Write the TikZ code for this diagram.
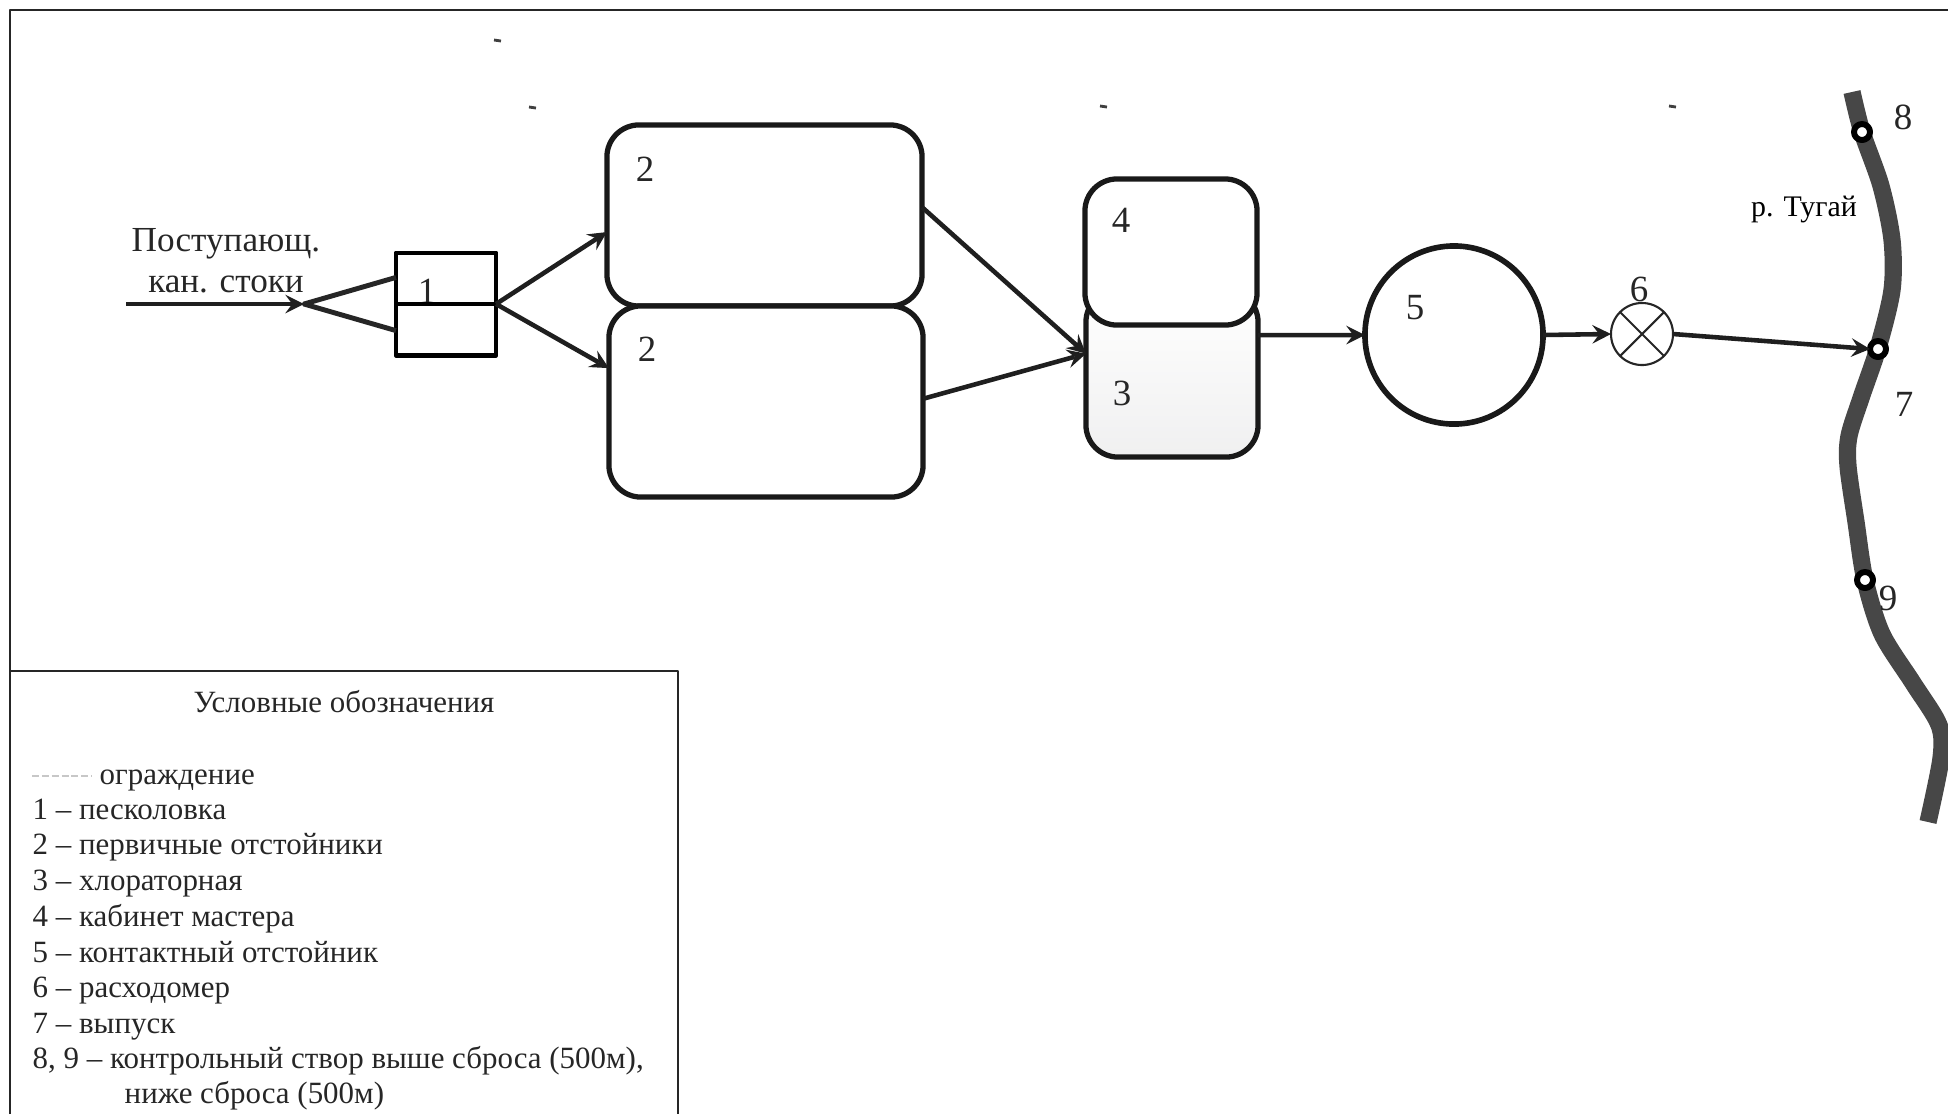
\documentclass[tikz,border=0pt]{standalone}
\usepackage{fontspec}
\setmainfont{Liberation Serif}
\tikzset{
tank/.style={draw=black!90,line width=1.5pt,rounded corners=0.32cm,fill=white,outer sep=0pt,inner sep=0pt},
gate/.style={draw,circle,line width=1.7pt,fill=white,inner sep=0pt,minimum size=0.16cm,outer sep=0pt},
flow/.style={line width=1.3pt,->,black!88},
num/.style={font=\fontsize{10.5}{12}\selectfont,text=black!85},
entry/.style={anchor=base west,inner sep=0pt,font=\fontsize{8.8}{10}\selectfont,text=black!85},
}
\begin{document}
\begin{tikzpicture}[x=0.01cm,y=-0.01cm,line join=round,>=stealth]
\useasboundingbox (0,0) rectangle (1948,1114);
% frame and legend box
\draw[line width=0.7pt,black!85] (10,1114) -- (10,10) -- (1948,10);
\draw[line width=0.6pt,black!85] (10,671) -- (678,671) -- (678,1114);
% specks of the fence
\foreach \x/\y in {494/40,529/107,1100/106,1669/106}
\draw[line width=0.8pt,black!75] (\x,\y) -- ++(7,1);
% river
\draw[line width=4.9pt,black!72] plot[smooth] coordinates {(1852,92) (1862,132) (1881,186) (1892,240) (1892,290) (1878,348) (1861,398) (1849,436) (1848,466) (1856,522) (1865,580) (1882,634) (1913,683) (1939,725) (1941,758) (1928,822)};
\node[gate] (upper) at (1862,132) {};
\node[gate] (outlet) at (1878,349) {};
\node[gate] (lower) at (1865,580) {};
\node[num] (l8) at (1903,117) {8};
\node[num] (l7) at (1904,404) {7};
\node[num] (l9) at (1888,598) {9};
\node[font=\fontsize{8.5}{10}\selectfont] (rname) at (1804,209) {р. Тугай};
% sand trap
\node[draw,line width=1.4pt,minimum width=1cm,minimum height=1.02cm,outer sep=0pt] (sand) at (446,304) {};
\node[num] (l1) at (427,291) {1};
\draw[line width=1.2pt] (sand.west) -- (sand.east);
% tanks
\node[tank,minimum width=3.15cm,minimum height=1.81cm] (tankA) at (764.5,215.5) {};
\node[tank,minimum width=3.14cm,minimum height=1.91cm] (tankB) at (766,401.5) {};
\node[tank,minimum width=1.72cm,minimum height=1.67cm,top color=white,bottom color=blue!3!black!6] (chlor) at (1172,373.5) {};
\node[tank,minimum width=1.72cm,minimum height=1.46cm] (office) at (1171,252) {};
\node[draw=black!90,circle,line width=1.6pt,minimum size=1.78cm,inner sep=0pt,outer sep=0pt] (contact) at (1454,335) {};
\node[draw=black!85,circle,line width=0.6pt,minimum size=0.62cm,inner sep=0pt,outer sep=0pt] (meter) at (1642,334) {};
\draw[line width=0.6pt,black!85] (meter.45) -- (meter.225) (meter.135) -- (meter.315);
\node[num] (l2a) at (645,169) {2};
\node[num] (l2b) at (647,349) {2};
\node[num] (l4) at (1121,220) {4};
\node[num] (l3) at (1122,393) {3};
\node[num] (l5) at (1415,308) {5};
\node[num] (l6) at (1639,289) {6};
% inlet
\coordinate (inlet) at (126,304);
\coordinate (fork) at (304,304);
\node[font=\fontsize{10}{12}\selectfont,text=black!85] (inA) at (226,244) {Поступающ.};
\node[font=\fontsize{10}{12}\selectfont,text=black!85] (inB) at (226,284) {кан. стоки};
\draw[flow] (inlet) -- (fork);
\draw[line width=1.4pt,black!85] (sand.152) -- (fork) -- (sand.208);
% flows
\draw[flow] (sand.east) -- (tankA.186);
\draw[flow] (sand.east) -- (tankB.168);
\draw[flow] (tankA.3.8) -- (chlor.167);
\draw[flow] (tankB.1) -- (chlor.167);
\draw[flow] (chlor.24) -- (contact.west);
\draw[flow] (contact.east) -- (meter.west);
\draw[flow] (meter.east) -- (outlet.west);
% legend
\node[entry,anchor=base] (title) at (344,712) {Условные обозначения};
\coordinate (fenceA) at (32,776);
\coordinate (fenceB) at (92,776);
\draw[black!22,dash pattern=on 2pt off 0.8pt,line width=0.8pt] (fenceA) -- (fenceB);
\node[entry] (fence) at (99,784) {ограждение};
\foreach \n/\y/\txt in {a/819/{1 – песколовка},b/854/{2 – первичные отстойники},c/890/{3 – хлораторная},d/926/{4 – кабинет мастера},e/962/{5 – контактный отстойник},f/997/{6 – расходомер},g/1033/{7 – выпуск},h/1068/{8, 9 – контрольный створ выше сброса (500м),}}
\node[entry] (item\n) at (32,\y) {\txt};
\node[entry] (itemi) at (124,1103) {ниже сброса (500м)};
\end{tikzpicture}
\end{document}
